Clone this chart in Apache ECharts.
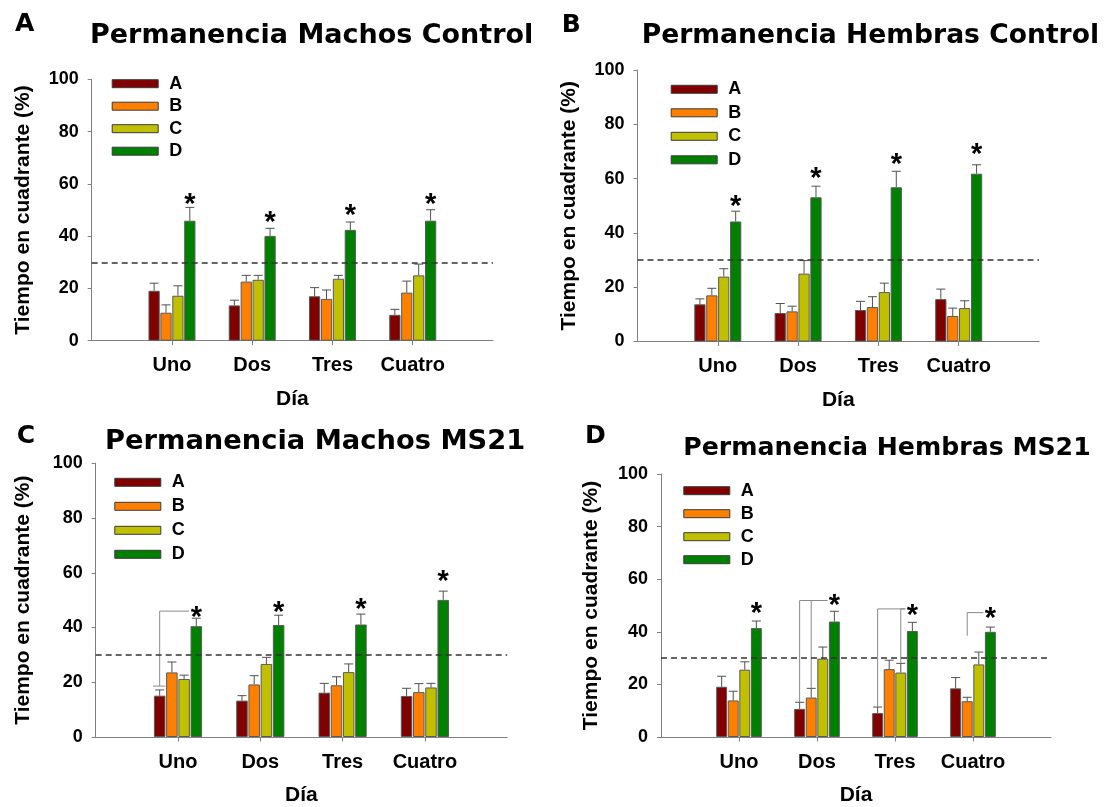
<!DOCTYPE html>
<html><head><meta charset="utf-8">
<script src="https://cdn.jsdelivr.net/npm/echarts@6/dist/echarts.min.js"></script>
<style>html,body{margin:0;padding:0;background:#fff}#c{width:1105px;height:807px}</style>
</head><body><div id="c"></div><script>
// ---------------- DATA ----------------
const days = ['Uno', 'Dos', 'Tres', 'Cuatro'];
const groups = ['A', 'B', 'C', 'D'];
const yTicks = [0, 20, 40, 60, 80, 100];
const chanceLevel = 30;

// Panel A: Permanencia Machos Control (rows = A, B, C, D ; columns = days)
const machosControlMean = [[19.1, 13.5, 17.0, 9.9], [10.7, 22.6, 16.0, 18.4], [17.2, 23.3, 23.7, 25.0], [45.9, 40.1, 42.4, 45.9]];
const machosControlErr  = [[22.0, 15.5, 20.3, 12.0], [13.7, 25.0, 19.4, 22.8], [21.0, 25.0, 25.0, 29.3], [51.0, 43.0, 45.4, 50.1]];
const machosControlStars = [54.5, 47.7, 50.3, 54.5];
const machosControlBrackets = [];

// Panel B: Permanencia Hembras Control
const hembrasControlMean = [[13.7, 10.5, 11.6, 15.6], [17.0, 11.1, 12.7, 9.4], [23.9, 25.0, 18.2, 12.3], [44.2, 53.1, 56.8, 61.8]];
const hembrasControlErr  = [[15.7, 14.0, 14.8, 19.3], [19.6, 13.0, 16.5, 12.3], [26.8, 29.8, 21.5, 15.0], [48.0, 57.2, 62.7, 65.1]];
const hembrasControlStars = [52.1, 62.5, 67.5, 71.2];
const hembrasControlBrackets = [];

// Panel C: Permanencia Machos MS21
const machosMS21Mean = [[15.1, 13.3, 16.2, 15.0], [23.6, 19.2, 18.9, 16.4], [21.2, 26.7, 23.7, 18.1], [40.5, 40.9, 41.1, 50.1]];
const machosMS21Err  = [[17.2, 15.1, 19.6, 17.8], [27.4, 22.4, 22.0, 19.5], [22.6, 29.1, 26.7, 19.6], [43.4, 44.5, 44.9, 53.3]];
const machosMS21Stars = [46.2, 48.0, 49.0, 59.1];
// [day index, group index, start value, top value, base cap]
const machosMS21Brackets = [[0, 0, 18.6, 46.0, 1]];

// Panel D: Permanencia Hembras MS21
const hembrasMS21Mean = [[19.1, 10.7, 9.1, 18.5], [13.9, 15.0, 25.8, 13.6], [25.6, 29.8, 24.5, 27.6], [41.4, 43.9, 40.3, 40.0]];
const hembrasMS21Err  = [[23.1, 13.2, 11.4, 22.6], [17.4, 18.5, 29.2, 15.1], [28.6, 34.2, 28.0, 32.3], [44.1, 47.8, 43.6, 41.8]];
const hembrasMS21Stars = [49.3, 52.4, 48.7, 47.6];
const hembrasMS21Brackets = [[1, 0, 13.2, 51.9, 0], [1, 1, 18.5, 51.9, 0], [2, 0, 11.4, 48.7, 0], [2, 2, 28.0, 48.7, 0], [3, 1, 38.5, 47.3, 0]];

const panelTitles = ['Permanencia Machos Control', 'Permanencia Hembras Control', 'Permanencia Machos MS21', 'Permanencia Hembras MS21'];
const panelLetters = ['A', 'B', 'C', 'D'];
const yAxisTitle = 'Tiempo en cuadrante (%)';
const xAxisTitle = 'Día';

// ---------------- STYLE / LAYOUT ----------------
const colors = ['#800000', '#ff8000', '#c0c000', '#008000'];
const fontMain = '"Liberation Sans", Arial, sans-serif';
const fontTitle = '"DejaVu Sans", sans-serif';
const BAR_W = 0.14, BAR_GAP = 0.06;

const panels = [
  { mean: machosControlMean, err: machosControlErr, stars: machosControlStars, brackets: machosControlBrackets,
    grid: { left: 91.7, top: 79.3, width: 401.3, height: 261.4 },
    title: { left: 90, cy: 36, size: 27 }, letter: { left: 15, cy: 24 }, legend: { left: 111.7, cy: 83.7, gap: 22.5 }, yNameGap: 58 },
  { mean: hembrasControlMean, err: hembrasControlErr, stars: hembrasControlStars, brackets: hembrasControlBrackets,
    grid: { left: 637.5, top: 70, width: 401.5, height: 271.5 },
    title: { left: 641.7, cy: 36, size: 26.6 }, letter: { left: 561.7, cy: 25 }, legend: { left: 670.7, cy: 89.3, gap: 23.5 }, yNameGap: 58 },
  { mean: machosMS21Mean, err: machosMS21Err, stars: machosMS21Stars, brackets: machosMS21Brackets,
    grid: { left: 95.7, top: 463.3, width: 411.5, height: 275.7 },
    title: { left: 105, cy: 442, size: 27.3 }, letter: { left: 16.7, cy: 436 }, legend: { left: 114.3, cy: 482.3, gap: 24 }, yNameGap: 62 },
  { mean: hembrasMS21Mean, err: hembrasMS21Err, stars: hembrasMS21Stars, brackets: hembrasMS21Brackets,
    grid: { left: 661, top: 474, width: 390, height: 267 },
    title: { left: 683.3, cy: 448, size: 25.2 }, letter: { left: 585, cy: 436.5 }, legend: { left: 683.3, cy: 490.7, gap: 23 }, yNameGap: 59 }
];

function geom(api) {
  const band = api.coord([2, 0])[0] - api.coord([1, 0])[0];
  const bw = band * BAR_W;
  return { bw: bw, pitch: bw * (1 + BAR_GAP) };
}

function errRender(params, api) {
  const c = api.value(0), v = api.value(1), e = api.value(2), s = api.value(3);
  const p0 = api.coord([c, v]), p1 = api.coord([c, e]);
  const g = geom(api);
  const x = p0[0] + (s - 1.5) * g.pitch;
  const st = { stroke: '#505050', lineWidth: 1 };
  return { type: 'group', children: [
    { type: 'line', shape: { x1: x, y1: p0[1], x2: x, y2: p1[1] }, style: st },
    { type: 'line', shape: { x1: x - 4.5, y1: p1[1], x2: x + 4.5, y2: p1[1] }, style: st }
  ] };
}

function starRender(params, api) {
  const c = api.value(0), v = api.value(1);
  const p = api.coord([c, v]);
  const g = geom(api);
  const x = p[0] + 1.5 * g.pitch;
  return { type: 'text', style: { text: '*', x: x, y: p[1] + 7, align: 'center', verticalAlign: 'middle',
    font: 'bold 29px "Liberation Sans", Arial, sans-serif', fill: '#000' } };
}

function bracketRender(params, api) {
  const c = api.value(0), s = api.value(1), a = api.value(2), t = api.value(3), cap = api.value(4);
  const pa = api.coord([c, a]), pt = api.coord([c, t]);
  const g = geom(api);
  const x = pa[0] + (s - 1.5) * g.pitch;
  const xEnd = pa[0] + 1.5 * g.pitch - g.bw / 2 - 1.5;
  const st = { stroke: '#8a8a8a', lineWidth: 1 };
  const ch = [
    { type: 'line', shape: { x1: x, y1: pa[1], x2: x, y2: pt[1] }, style: st },
    { type: 'line', shape: { x1: x, y1: pt[1], x2: xEnd, y2: pt[1] }, style: st }
  ];
  if (cap) ch.push({ type: 'line', shape: { x1: x - g.bw / 2 - 1, y1: pa[1], x2: x + g.bw / 2, y2: pa[1] }, style: st });
  return { type: 'group', children: ch };
}

const option = {
  animation: false,
  backgroundColor: '#fff',
  textStyle: { fontFamily: fontMain },
  title: [], legend: [], grid: [], xAxis: [], yAxis: [], series: []
};

panels.forEach((P, k) => {
  option.title.push({ text: panelTitles[k], left: P.title.left, top: P.title.cy - 15, padding: 0,
    textStyle: { fontFamily: fontTitle, fontSize: P.title.size, fontWeight: 'bold', color: '#000', lineHeight: 30 } });
  option.title.push({ text: panelLetters[k], left: P.letter.left, top: P.letter.cy - 13, padding: 0,
    textStyle: { fontFamily: fontTitle, fontSize: 25, fontWeight: 'bold', color: '#000', lineHeight: 26 } });
  option.legend.push({ data: groups, left: P.legend.left, top: P.legend.cy - 9, orient: 'vertical', padding: 0,
    itemWidth: 46, itemHeight: 8, itemGap: P.legend.gap - 18, icon: 'rect', selectedMode: false,
    itemStyle: { borderColor: '#3a3a3a', borderWidth: 1 },
    textStyle: { fontSize: 18, fontWeight: 'bold', color: '#000', lineHeight: 18, padding: [0, 0, 0, 6] } });
  option.grid.push(Object.assign({ containLabel: false }, P.grid));
  option.xAxis.push({ gridIndex: k, type: 'category', data: [''].concat(days, ['']), boundaryGap: false,
    axisLine: { show: true, lineStyle: { color: '#808080', width: 1 } },
    axisTick: { show: true, length: 4.5, interval: (i, v) => v !== '', lineStyle: { color: '#808080' } },
    axisLabel: { interval: 0, margin: 15, fontSize: 20, fontWeight: 'bold', color: '#000' },
    splitLine: { show: false },
    name: xAxisTitle, nameLocation: 'middle', nameGap: 48,
    nameTextStyle: { fontSize: 21, fontWeight: 'bold', color: '#000' } });
  option.yAxis.push({ gridIndex: k, type: 'value', min: yTicks[0], max: yTicks[yTicks.length - 1], interval: yTicks[1] - yTicks[0],
    axisLine: { show: true, lineStyle: { color: '#808080', width: 1 } },
    axisTick: { show: true, length: 4, lineStyle: { color: '#808080' } },
    axisLabel: { margin: 13, fontSize: 18, fontWeight: 'bold', color: '#000' },
    splitLine: { show: false },
    name: yAxisTitle, nameLocation: 'middle', nameGap: P.yNameGap,
    nameTextStyle: { fontSize: 21, fontWeight: 'bold', color: '#000' } });

  groups.forEach((gname, g) => {
    const s = { type: 'bar', name: gname, xAxisIndex: k, yAxisIndex: k,
      data: [null].concat(P.mean[g], [null]),
      barWidth: (BAR_W * 100) + '%', barGap: (BAR_GAP * 100) + '%',
      itemStyle: { color: colors[g], borderColor: '#5a5a5a', borderWidth: 1 } };
    if (g === 3) {
      s.markLine = { silent: true, symbol: ['none', 'none'], label: { show: false },
        lineStyle: { color: '#333', type: [6, 4], width: 1.5 }, data: [{ yAxis: chanceLevel }] };
    }
    option.series.push(s);
  });

  const errData = [];
  groups.forEach((gname, g) => {
    days.forEach((d, j) => errData.push([j + 1, P.mean[g][j], P.err[g][j], g]));
  });
  option.series.push({ type: 'custom', xAxisIndex: k, yAxisIndex: k, renderItem: errRender, data: errData, z: 3, silent: true });
  option.series.push({ type: 'custom', xAxisIndex: k, yAxisIndex: k, renderItem: starRender,
    data: P.stars.map((v, j) => [j + 1, v]), z: 4, silent: true });
  if (P.brackets.length) {
    option.series.push({ type: 'custom', xAxisIndex: k, yAxisIndex: k, renderItem: bracketRender,
      data: P.brackets.map(b => [b[0] + 1, b[1], b[2], b[3], b[4]]), z: 3, silent: true });
  }
});

const chart = echarts.init(document.getElementById('c'), null, { renderer: 'canvas' });
chart.setOption(option);
</script></body></html>
